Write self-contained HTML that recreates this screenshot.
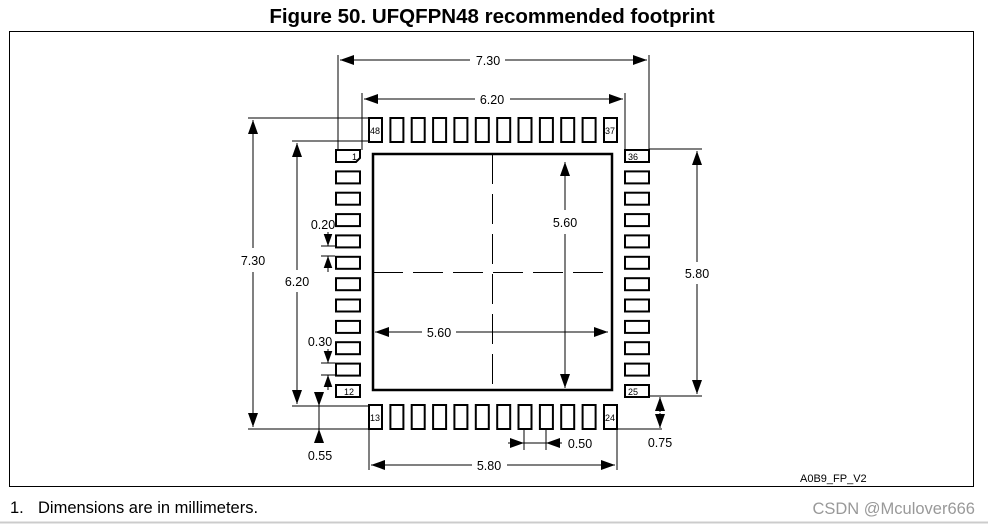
<!DOCTYPE html>
<html><head><style>
html,body{margin:0;padding:0;background:#fff;}
body{width:988px;height:524px;position:relative;overflow:hidden;font-family:"Liberation Sans",Arial,sans-serif;}
</style></head><body>
<svg width="988" height="524" viewBox="0 0 988 524" xmlns="http://www.w3.org/2000/svg" font-family="Liberation Sans, Arial, sans-serif">
<defs>
<marker id="a" viewBox="0 0 14 10" refX="14" refY="5" markerWidth="12" markerHeight="10" markerUnits="userSpaceOnUse" orient="auto-start-reverse"><path d="M0,0 L14,5 L0,10 z" fill="#000"/></marker>
<marker id="b" viewBox="0 0 14 10" refX="14" refY="5" markerWidth="14" markerHeight="10" markerUnits="userSpaceOnUse" orient="auto-start-reverse"><path d="M0,0 L14,5 L0,10 z" fill="#000"/></marker>
<rect id="pv" width="13" height="24" fill="#fff" stroke="#000" stroke-width="2"/>
<rect id="ph" width="24" height="12" fill="#fff" stroke="#000" stroke-width="2"/>
</defs>
<text x="492" y="23" text-anchor="middle" font-size="20.5" font-weight="bold">Figure 50. UFQFPN48 recommended footprint</text>
<rect x="9.5" y="31.5" width="964" height="455" fill="none" stroke="#000" stroke-width="1"/>
<g stroke="#000" stroke-width="1" fill="none">
<line x1="338" y1="55" x2="338" y2="150"/>
<line x1="649" y1="55" x2="649" y2="150"/>
<line x1="362" y1="93" x2="362" y2="150"/>
<line x1="625" y1="93" x2="625" y2="150"/>
<line x1="248" y1="118" x2="369" y2="118"/>
<line x1="248" y1="429" x2="369" y2="429"/>
<line x1="292" y1="141" x2="369" y2="141"/>
<line x1="292" y1="406" x2="369" y2="406"/>
<line x1="649" y1="149" x2="702" y2="149"/>
<line x1="649" y1="396" x2="702" y2="396"/>
<line x1="369" y1="430" x2="369" y2="470"/>
<line x1="617" y1="430" x2="617" y2="470"/>
<line x1="617" y1="429" x2="662" y2="429"/>
<line x1="524" y1="430" x2="524" y2="450"/>
<line x1="546" y1="430" x2="546" y2="450"/>
<line x1="321" y1="246" x2="335" y2="246"/>
<line x1="321" y1="256" x2="335" y2="256"/>
<line x1="321" y1="363" x2="335" y2="363"/>
<line x1="321" y1="375" x2="335" y2="375"/>
<line x1="340" y1="60" x2="470" y2="60" marker-start="url(#b)"/><line x1="505" y1="60" x2="647" y2="60" marker-end="url(#b)"/>
<line x1="364" y1="99" x2="475" y2="99" marker-start="url(#b)"/><line x1="510" y1="99" x2="623" y2="99" marker-end="url(#b)"/>
<line x1="253" y1="120" x2="253" y2="248" marker-start="url(#b)"/><line x1="253" y1="272" x2="253" y2="427" marker-end="url(#b)"/>
<line x1="297" y1="143" x2="297" y2="270" marker-start="url(#b)"/><line x1="297" y1="292" x2="297" y2="404" marker-end="url(#b)"/>
<line x1="565" y1="162" x2="565" y2="210" marker-start="url(#b)"/><line x1="565" y1="234" x2="565" y2="388" marker-end="url(#b)"/>
<line x1="375" y1="332" x2="422" y2="332" marker-start="url(#b)"/><line x1="456" y1="332" x2="608" y2="332" marker-end="url(#b)"/>
<line x1="697" y1="151" x2="697" y2="262" marker-start="url(#b)"/><line x1="697" y1="284" x2="697" y2="394" marker-end="url(#b)"/>
<line x1="371" y1="465" x2="472" y2="465" marker-start="url(#b)"/><line x1="507" y1="465" x2="615" y2="465" marker-end="url(#b)"/>
<line x1="328" y1="232" x2="328" y2="246" marker-end="url(#a)"/><line x1="328" y1="272" x2="328" y2="256" marker-end="url(#a)"/>
<line x1="328" y1="349" x2="328" y2="363" marker-end="url(#a)"/><line x1="328" y1="390" x2="328" y2="375" marker-end="url(#a)"/>
<line x1="319" y1="392" x2="319" y2="406" marker-end="url(#b)"/><line x1="319" y1="443" x2="319" y2="429" marker-end="url(#b)"/><line x1="319" y1="406" x2="319" y2="429"/>
<line x1="660" y1="412" x2="660" y2="397" marker-end="url(#b)"/><line x1="660" y1="413" x2="660" y2="428" marker-end="url(#b)"/>
<line x1="508" y1="443" x2="524" y2="443" marker-end="url(#b)"/><line x1="562" y1="443" x2="546" y2="443" marker-end="url(#b)"/><line x1="524" y1="443" x2="546" y2="443"/>
</g>
<rect x="373" y="154" width="239" height="236" fill="none" stroke="#000" stroke-width="2.5"/>
<g stroke="#000" stroke-width="1" stroke-dasharray="30,10">
<line x1="492.5" y1="154" x2="492.5" y2="390"/>
<line x1="373" y1="272.5" x2="612" y2="272.5"/>
</g>
<g>
<use href="#pv" x="369" y="118"/><use href="#pv" x="390.4" y="118"/><use href="#pv" x="411.7" y="118"/><use href="#pv" x="433.1" y="118"/><use href="#pv" x="454.4" y="118"/><use href="#pv" x="475.8" y="118"/><use href="#pv" x="497.2" y="118"/><use href="#pv" x="518.5" y="118"/><use href="#pv" x="539.9" y="118"/><use href="#pv" x="561.2" y="118"/><use href="#pv" x="582.6" y="118"/><use href="#pv" x="604" y="118"/>
<use href="#pv" x="369" y="405"/><use href="#pv" x="390.4" y="405"/><use href="#pv" x="411.7" y="405"/><use href="#pv" x="433.1" y="405"/><use href="#pv" x="454.4" y="405"/><use href="#pv" x="475.8" y="405"/><use href="#pv" x="497.2" y="405"/><use href="#pv" x="518.5" y="405"/><use href="#pv" x="539.9" y="405"/><use href="#pv" x="561.2" y="405"/><use href="#pv" x="582.6" y="405"/><use href="#pv" x="604" y="405"/>
<use href="#ph" x="336" y="171.4"/><use href="#ph" x="336" y="192.7"/><use href="#ph" x="336" y="214.1"/><use href="#ph" x="336" y="235.4"/><use href="#ph" x="336" y="256.8"/><use href="#ph" x="336" y="278.2"/><use href="#ph" x="336" y="299.5"/><use href="#ph" x="336" y="320.9"/><use href="#ph" x="336" y="342.2"/><use href="#ph" x="336" y="363.6"/><use href="#ph" x="336" y="385"/>
<use href="#ph" x="625" y="150"/><use href="#ph" x="625" y="171.4"/><use href="#ph" x="625" y="192.7"/><use href="#ph" x="625" y="214.1"/><use href="#ph" x="625" y="235.4"/><use href="#ph" x="625" y="256.8"/><use href="#ph" x="625" y="278.2"/><use href="#ph" x="625" y="299.5"/><use href="#ph" x="625" y="320.9"/><use href="#ph" x="625" y="342.2"/><use href="#ph" x="625" y="363.6"/><use href="#ph" x="625" y="385"/>
<path d="M336,150 H360 V158 L356,162 H336 Z" fill="#fff" stroke="#000" stroke-width="2"/>
</g>
<g font-size="9" fill="#000">
<text x="370" y="134">48</text><text x="605" y="134">37</text>
<text x="370" y="421">13</text><text x="605" y="421">24</text>
<text x="352" y="160">1</text><text x="344" y="395">12</text>
<text x="628" y="160">36</text><text x="628" y="395">25</text>
</g>
<g font-size="12.5" fill="#000" text-anchor="middle">
<text x="488" y="65">7.30</text>
<text x="492" y="104">6.20</text>
<text x="253" y="265">7.30</text>
<text x="297" y="286">6.20</text>
<text x="565" y="227">5.60</text>
<text x="439" y="337">5.60</text>
<text x="697" y="278">5.80</text>
<text x="489" y="470">5.80</text>
<text x="323" y="229">0.20</text>
<text x="320" y="346">0.30</text>
<text x="320" y="460">0.55</text>
<text x="660" y="447">0.75</text>
<text x="580" y="448">0.50</text>
</g>
<text x="800" y="482" font-size="11">A0B9_FP_V2</text>
<text x="10" y="513" font-size="16.5">1.</text>
<text x="38" y="513" font-size="16.5">Dimensions are in millimeters.</text>
<text x="975" y="514" font-size="16.5" fill="#999" text-anchor="end">CSDN @Mculover666</text>
<line x1="0" y1="522.5" x2="988" y2="522.5" stroke="#ccc" stroke-width="2"/>
</svg>
</body></html>
